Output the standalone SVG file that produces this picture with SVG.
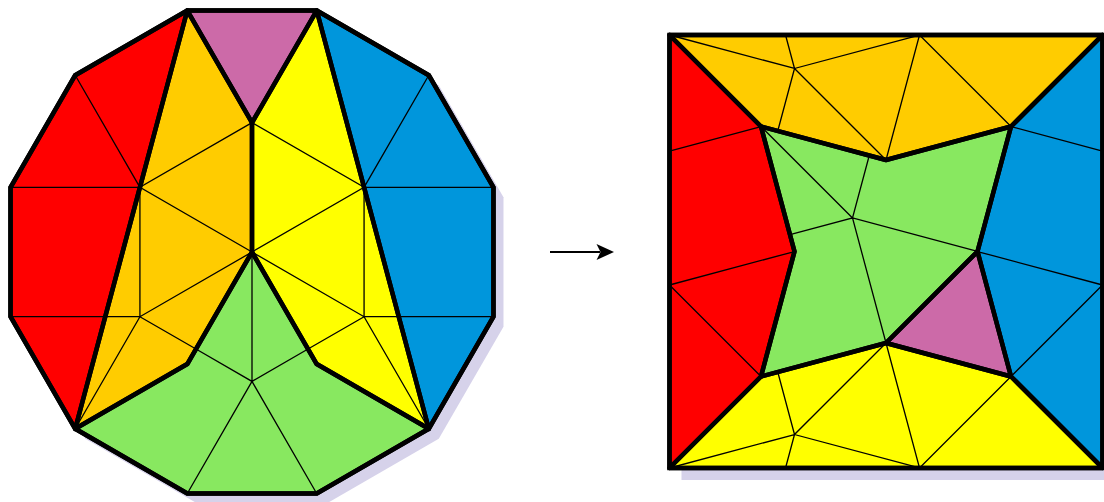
<svg xmlns="http://www.w3.org/2000/svg" width="1104" height="502" viewBox="0 0 1104 502">
<style>
.thin{fill:none;stroke:#000;stroke-width:1.3;stroke-linecap:round}
.edge{fill:none;stroke:#000;stroke-width:4.5;stroke-linejoin:round}
.outer{fill:none;stroke:#000;stroke-width:4.5;stroke-linejoin:miter}
.shadow{fill:#d6d2ea;stroke:none}
.red{fill:#ff0000}.orange{fill:#ffcc00}.yellow{fill:#ffff00}.blue{fill:#0096dc}.green{fill:#88e860}.purple{fill:#cc6aa8}
</style>
<defs>
<polygon id="pPurple" points="187.30,10.52 316.70,10.52 252,122.59"/>
<polygon id="pRed" points="187.30,10.52 75.22,75.22 10.52,187.30 10.52,316.70 75.22,428.78"/>
<polygon id="pOrange" points="187.30,10.52 252,122.59 252,252 187.30,364.07 75.22,428.78"/>
<polygon id="pYellow" points="316.70,10.52 252,122.59 252,252 316.70,364.07 428.78,428.78"/>
<polygon id="pBlue" points="316.70,10.52 428.78,75.22 493.48,187.30 493.48,316.70 428.78,428.78"/>
<polygon id="pGreen" points="75.22,428.78 187.30,364.07 252,252 316.70,364.07 428.78,428.78 316.70,493.48 187.30,493.48"/>
<path id="lRed" d="M75.22,75.22 L139.93,187.30 M10.52,187.30 L139.93,187.30 M10.52,316.70 L105.25,316.70"/>
<path id="lOrange" d="M252,122.59 L139.93,187.30 L252,252 M139.93,187.30 L139.93,316.70 L252,252 M139.93,316.70 L75.22,428.78 M139.93,316.70 L195.97,349.06 M139.93,316.70 L105.25,316.70"/>
<path id="lYellow" d="M252,122.59 L364.07,187.30 L252,252 M364.07,187.30 L364.07,316.70 L252,252 M364.07,316.70 L428.78,428.78 M364.07,316.70 L308.03,349.06 M364.07,316.70 L398.75,316.70"/>
<path id="lBlue" d="M428.78,75.22 L364.07,187.30 M493.48,187.30 L364.07,187.30 M493.48,316.70 L398.75,316.70"/>
<path id="lGreen" d="M252,252 L252,381.41 M187.30,493.48 L252,381.41 L316.70,493.48 M195.97,349.06 L252,381.41 L308.03,349.06"/>
</defs>

<g id="dodecagon">
<polygon class="shadow" transform="translate(10,10)" points="316.70,10.52 428.78,75.22 493.48,187.30 493.48,316.70 428.78,428.78 316.70,493.48 187.30,493.48 75.22,428.78 10.52,316.70 10.52,187.30 75.22,75.22 187.30,10.52"/>
<g id="d-purple"><use href="#pPurple" class="purple"/></g>
<g id="d-red"><use href="#pRed" class="red"/><use href="#lRed" class="thin"/></g>
<g id="d-orange"><use href="#pOrange" class="orange"/><use href="#lOrange" class="thin"/></g>
<g id="d-yellow"><use href="#pYellow" class="yellow"/><use href="#lYellow" class="thin"/></g>
<g id="d-blue"><use href="#pBlue" class="blue"/><use href="#lBlue" class="thin"/></g>
<g id="d-green"><use href="#pGreen" class="green"/><use href="#lGreen" class="thin"/></g>
<g id="d-edges">
<use href="#pPurple" class="edge"/><use href="#pRed" class="edge"/><use href="#pOrange" class="edge"/>
<use href="#pYellow" class="edge"/><use href="#pBlue" class="edge"/><use href="#pGreen" class="edge"/>
<polygon class="outer" points="316.70,10.52 428.78,75.22 493.48,187.30 493.48,316.70 428.78,428.78 316.70,493.48 187.30,493.48 75.22,428.78 10.52,316.70 10.52,187.30 75.22,75.22 187.30,10.52"/>
</g>
</g>

<g id="connectors">
<line x1="550" y1="252" x2="600" y2="252" stroke="#000" stroke-width="2"/>
<path d="M614,252 L596.5,244 L600.5,252 L596.5,260 Z" fill="#000"/>
</g>

<g id="square">
<rect class="shadow" x="681.5" y="47" width="433" height="433"/>
<g id="s-purple" transform="translate(977.5,251.51) rotate(75) translate(-187.30,-10.52)"><use href="#pPurple" class="purple"/></g>
<g id="s-red" transform="translate(669.5,35) rotate(165) translate(-75.22,-428.78)"><use href="#pRed" class="red"/><use href="#lRed" class="thin"/></g>
<g id="s-orange" transform="translate(669.5,35) rotate(75) translate(-75.22,-428.78)"><use href="#pOrange" class="orange"/><use href="#lOrange" class="thin"/></g>
<g id="s-yellow" transform="translate(669.5,468) rotate(105) translate(-428.78,-428.78)"><use href="#pYellow" class="yellow"/><use href="#lYellow" class="thin"/></g>
<g id="s-blue" transform="translate(1102.5,35) rotate(195) translate(-428.78,-428.78)"><use href="#pBlue" class="blue"/><use href="#lBlue" class="thin"/></g>
<g id="s-green" transform="translate(761.01,376.49) rotate(-45) translate(-75.22,-428.78)"><use href="#pGreen" class="green"/><use href="#lGreen" class="thin"/></g>
<g id="s-edges">
<use href="#pPurple" class="edge" transform="translate(977.5,251.51) rotate(75) translate(-187.30,-10.52)"/>
<use href="#pRed" class="edge" transform="translate(669.5,35) rotate(165) translate(-75.22,-428.78)"/>
<use href="#pOrange" class="edge" transform="translate(669.5,35) rotate(75) translate(-75.22,-428.78)"/>
<use href="#pYellow" class="edge" transform="translate(669.5,468) rotate(105) translate(-428.78,-428.78)"/>
<use href="#pBlue" class="edge" transform="translate(1102.5,35) rotate(195) translate(-428.78,-428.78)"/>
<use href="#pGreen" class="edge" transform="translate(761.01,376.49) rotate(-45) translate(-75.22,-428.78)"/>
<rect class="outer" x="669.5" y="35" width="433" height="433"/>
</g>
</g>
</svg>
